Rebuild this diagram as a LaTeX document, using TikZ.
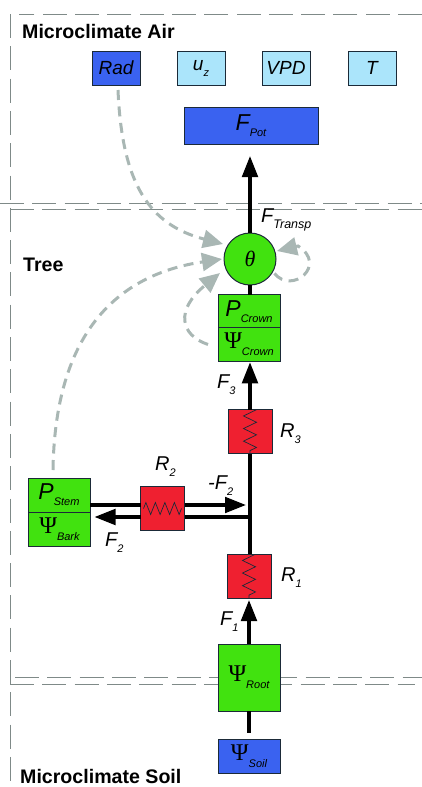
\documentclass[tikz,border=0pt]{standalone}
\usepackage{fontspec}
\usepackage{amsmath}
\setmainfont{Liberation Sans}
\newfontfamily\greekfont{Liberation Serif}
\usepackage{tikz}
\usetikzlibrary{arrows.meta,positioning,calc,decorations.pathmorphing}

\definecolor{plantgreen}{HTML}{41E20F}
\definecolor{strongblue}{HTML}{3A62F0}
\definecolor{paleblue}{HTML}{ABE5FB}
\definecolor{resred}{HTML}{EF2030}
\definecolor{edgedark}{HTML}{1B2A38}
\definecolor{zonegray}{HTML}{7F8A88}
\definecolor{signalgray}{HTML}{A9B7B4}

\newcommand{\sublab}[3][20pt]{{\fontsize{#1}{#1}\selectfont\itshape #2}\raisebox{-6pt}{\fontsize{11}{11}\selectfont\itshape #3}}
\newcommand{\psilab}[1]{{\fontsize{24}{24}\greekfont Ψ}\raisebox{-7pt}{\fontsize{11}{11}\selectfont\itshape #1}}

\tikzset{
	box/.style={shape=rectangle, draw=edgedark, line width=1pt, inner sep=0pt, outer sep=0pt},
	greenbox/.style={box, fill=plantgreen, minimum width=62pt, minimum height=33.5pt},
	drive/.style={box, fill=paleblue, minimum width=48pt, minimum height=34pt, font=\fontsize{19}{19}\selectfont\itshape},
	resbox/.style={box, fill=resred, minimum width=44pt, minimum height=44pt},
	vspring/.style={path picture={\draw[line width=0.7pt, decorate, decoration={zigzag, segment length=12.6pt, amplitude=6.5pt}]
		([yshift=3pt]path picture bounding box.north) -- ([yshift=-3pt]path picture bounding box.south);}},
	hspring/.style={path picture={\draw[line width=0.7pt, decorate, decoration={zigzag, segment length=9.5pt, amplitude=6pt}]
		([xshift=3pt]path picture bounding box.west) -- ([xshift=-3pt]path picture bounding box.east);}},
	flow/.style={line width=3.4pt, -{Triangle[length=21pt, width=15.5pt]}},
	pipe/.style={line width=3.4pt},
	signal/.style={line width=3pt, color=signalgray, dash pattern=on 10pt off 6.5pt, -{Triangle[length=20pt, width=18pt]}},
	zone/.style={line width=1pt, color=zonegray, dash pattern=on 24pt off 8.3pt},
	zonetitle/.style={font=\fontsize{19.6}{19.6}\selectfont\bfseries, inner sep=0pt, anchor=west},
	flowlab/.style={inner sep=0pt, anchor=west}
}

\begin{document}
\begin{tikzpicture}[x=1pt, y=-1pt]
	\useasboundingbox (0,0) rectangle (422,787);

	% zones
	\coordinate (airl) at (10,14);
	\coordinate (airr) at (422,14);
	\coordinate (soilb) at (10,787);
	\coordinate (t1l) at (0,203);
	\coordinate (t1r) at (422,203);
	\coordinate (t2l) at (10,209);
	\coordinate (t2r) at (422,209);
	\coordinate (b1l) at (15,677);
	\coordinate (b1r) at (422,677);
	\coordinate (b2l) at (10,684);
	\coordinate (b2r) at (415,684);
	\draw [zone] (airr) -- (19,14);
	\draw [zone] (airl) -- (soilb);
	\draw [zone] (t1l) -- (t1r);
	\draw [zone] (t2l) -- (t2r);
	\draw [zone] (b1l) -- (b1r);
	\draw [zone] (b2l) -- (b2r);

	\node[zonetitle] (air) at (22,31) {Microclimate Air};
	\node[zonetitle] (tree) at (23,265) {Tree};
	\node[zonetitle] (soil) at (20,776) {Microclimate Soil};

	% boxes
	\node[drive, fill=strongblue] (rad) at (116,68) {Rad};
	\node[drive] (uz) at (201,68) {\sublab[19pt]{u}{z}};
	\node[drive] (vpd) at (286,68) {VPD};
	\node[drive] (temp) at (372,68) {T};
	\node[box, fill=strongblue, minimum width=134pt, minimum height=37pt] (fpot) at (251,125.5) {\sublab[23pt]{F}{Pot}};

	\node[shape=circle, draw=edgedark, line width=1pt, fill=plantgreen, minimum size=52pt, inner sep=0pt, outer sep=0pt, font=\fontsize{22}{22}\greekfont\itshape] (theta) at (250,259) {θ};
	\node[greenbox] (pcrown) at (249,311.5) {\sublab[23pt]{P}{Crown}};
	\node[greenbox] (psicrown) at (249,344.5) {\psilab{Crown}};

	\node[resbox, vspring] (r3) at (250,431.5) {};
	\node[resbox, hspring] (r2) at (162.5,508.5) {};
	\node[resbox, vspring] (r1) at (249,576) {};

	\node[greenbox, minimum height=34pt] (pstem) at (59,495) {\sublab[23pt]{P}{Stem}};
	\node[greenbox, minimum height=34pt] (psibark) at (59.5,529) {\psilab{Bark}};

	\node[greenbox, minimum height=67pt] (psiroot) at (249,677.5) {\psilab{Root}};
	\node[box, fill=strongblue, minimum width=62pt, minimum height=34pt] (psisoil) at (249,756) {\psilab{Soil}};

	% labels
	\node[flowlab] (ftransp) at (261,220) {\sublab{F}{\fontsize{12.5}{12.5}\selectfont Transp}};
	\node[flowlab] (f3) at (217,385) {\sublab{F}{3}};
	\node[flowlab] (lr3) at (280,434) {\sublab{R}{3}};
	\node[flowlab] (lr2) at (155,467) {\sublab{R}{2}};
	\node[flowlab] (mf2) at (208,486) {\sublab{-F}{2}};
	\node[flowlab] (f2) at (105,543) {\sublab{F}{2}};
	\node[flowlab] (lr1) at (281,578) {\sublab{R}{1}};
	\node[flowlab] (f1) at (220,622) {\sublab{F}{1}};

	% flows
	\coordinate (junc) at (250,517);
	\coordinate (rsplit) at (250,505);
	\path [draw, pipe, shorten >=6pt] (psiroot.south) -- (psisoil.north);
	\path [draw, flow, shorten >=2pt] (psiroot.north) -- (r1.north |- r1.south);
	\path [draw, pipe] (r1.north -| junc) -- (r3.south -| junc);
	\path [draw, flow, shorten >=1pt] (r3.north -| junc) -- (psicrown.south -| junc);
	\path [draw, pipe] (pcrown.north -| junc) -- (theta.south);
	\path [draw, flow, shorten >=12pt] (theta.north) -- (fpot.south -| theta);
	\path [draw, pipe] (pstem.east |- rsplit) -- (r2.west |- rsplit);
	\path [draw, flow, shorten >=4pt] (r2.east |- rsplit) -- (rsplit);
	\path [draw, pipe] (junc) -- (r2.east |- junc);
	\path [draw, flow, shorten >=4pt] (r2.west |- junc) -- (psibark.east |- junc);

	% signals
	\coordinate (thetaa) at (223,244);
	\coordinate (thetab) at (222,259);
	\coordinate (thetac) at (220,273);
	\coordinate (thetad) at (277,251);
	\draw [signal] (rad.south) ++(2,5) .. controls (122,185) and (150,225) .. (thetaa);
	\draw [signal] (pstem.north) ++(-6,-8) .. controls (55,335) and (115,275) .. (thetab);
	\draw [signal] (psicrown.west) ++(-10,0) .. controls (180,335) and (175,310) .. (thetac);
	\draw [signal] (theta.south east) ++(6,-4) .. controls (292,295) and (328,265) .. (298,246) -- (thetad);
\end{tikzpicture}
\end{document}
